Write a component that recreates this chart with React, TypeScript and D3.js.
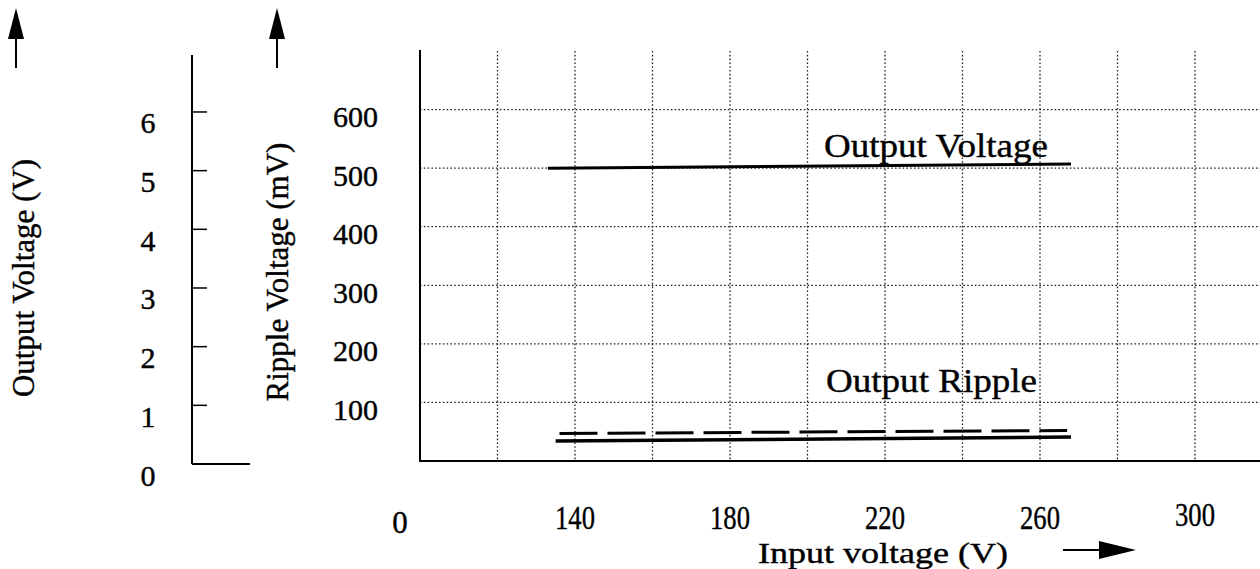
import React from "react";
import * as d3 from "d3";

// Input voltage (V) values carrying a labelled tick and a vertical grid line
const inputTickLabels = [140, 180, 220, 260, 300];
const inputGridLines = [120, 140, 160, 180, 200, 220, 240, 260, 280, 300];
// Ripple voltage axis (mV)
const rippleTicks = [100, 200, 300, 400, 500, 600];
// Output voltage axis (V)
const voltTicks = [0, 1, 2, 3, 4, 5, 6];

// Measured curves: input voltage (V) vs output voltage (V)
const outputVoltage = [
  { vin: 133, v: 5.0 },
  { vin: 268, v: 5.07 },
];
// Output ripple traces (mV)
const rippleUpper = [
  { vin: 136, mv: 47 },
  { vin: 267, mv: 52 },
];
const rippleLower = [
  { vin: 135, mv: 34 },
  { vin: 268, mv: 41 },
];

const W = 1260;
const H = 569;
const SERIF = "'Liberation Serif', 'Times New Roman', serif";
// slightly heavier glyphs, like a printed data sheet
const ink = { fill: "#000", stroke: "#000", strokeWidth: 0.4 };

export default function App() {
  const x = d3.scaleLinear().domain([100, 320]).range([420, 1272.5]);
  const yR = d3.scaleLinear().domain([0, 700]).range([461, 51]);
  const yV = d3.scaleLinear().domain([0, 7]).range([464, 53.3]);

  const vLine = d3
    .line<{ vin: number; v: number }>()
    .x((d) => x(d.vin))
    .y((d) => yR(d.v * 100));
  const rLine = d3
    .line<{ vin: number; mv: number }>()
    .x((d) => x(d.vin))
    .y((d) => yR(d.mv));

  const left = x(100);
  const bottom = yR(0);
  const top = yR(700);
  const vAxisX = 192;

  return (
    <svg
      width={W}
      height={H}
      viewBox={`0 0 ${W} ${H}`}
      style={{ position: "fixed", left: 0, top: 0, background: "#fff" }}
    >
      <rect x={0} y={0} width={W} height={H} fill="#fff" />

      {/* vertical up-arrows above both y-axis titles */}
      {[16, 277].map((ax) => (
        <g key={ax}>
          <line x1={ax} x2={ax} y1={36} y2={68} stroke="#000" strokeWidth={2} />
          <path d={`M${ax},8 L${ax - 8},39 L${ax + 8},39 Z`} fill="#000" />
        </g>
      ))}

      {/* y-axis titles */}
      <text
        transform={`translate(34,${(152 + 404) / 2}) rotate(-90)`}
        textAnchor="middle"
        fontFamily={SERIF}
        fontSize={31}
        {...ink}
      >
        Output Voltage (V)
      </text>
      <text
        transform={`translate(288,${(140 + 404) / 2}) rotate(-90)`}
        textAnchor="middle"
        fontFamily={SERIF}
        fontSize={31}
        {...ink}
      >
        Ripple Voltage (mV)
      </text>

      {/* output voltage axis */}
      <line x1={vAxisX} x2={vAxisX} y1={55} y2={yV(0)} stroke="#000" strokeWidth={2} />
      <line x1={vAxisX} x2={250} y1={yV(0)} y2={yV(0)} stroke="#000" strokeWidth={2} />
      {voltTicks
        .filter((t) => t > 0)
        .map((t) => (
          <line
            key={t}
            x1={vAxisX}
            x2={vAxisX + 15}
            y1={yV(t)}
            y2={yV(t)}
            stroke="#000"
            strokeWidth={1.5}
          />
        ))}
      {voltTicks.map((t) => (
        <text
          key={t}
          x={148}
          y={yV(t) + 11}
          dy="0.35em"
          textAnchor="middle"
          fontFamily={SERIF}
          fontSize={30}
          {...ink}
        >
          {t}
        </text>
      ))}

      {/* ripple axis labels */}
      {rippleTicks.map((t) => (
        <text
          key={t}
          x={378}
          y={yR(t) + 7}
          dy="0.35em"
          textAnchor="end"
          fontFamily={SERIF}
          fontSize={30}
          {...ink}
        >
          {t}
        </text>
      ))}

      {/* dotted grid */}
      {inputGridLines.map((v) => (
        <line
          key={v}
          x1={x(v)}
          x2={x(v)}
          y1={top}
          y2={bottom}
          stroke="#222"
          strokeWidth={1.3}
          strokeDasharray="1.6 2.2"
        />
      ))}
      {rippleTicks.map((t) => (
        <line
          key={t}
          x1={left}
          x2={W}
          y1={yR(t)}
          y2={yR(t)}
          stroke="#222"
          strokeWidth={1.3}
          strokeDasharray="1.6 2.2"
        />
      ))}

      {/* plot frame */}
      <line x1={left} x2={left} y1={top - 1} y2={bottom + 1} stroke="#000" strokeWidth={2} />
      <line x1={left - 1} x2={W} y1={bottom} y2={bottom} stroke="#000" strokeWidth={2} />

      {/* curves */}
      <path d={vLine(outputVoltage) ?? ""} fill="none" stroke="#000" strokeWidth={3} />
      <path
        d={rLine(rippleUpper) ?? ""}
        fill="none"
        stroke="#000"
        strokeWidth={3}
        strokeDasharray="38 10"
      />
      <path d={rLine(rippleLower) ?? ""} fill="none" stroke="#000" strokeWidth={3.5} />

      {/* curve annotations */}
      <text
        x={824}
        y={157}
        textLength={224}
        lengthAdjust="spacingAndGlyphs"
        fontFamily={SERIF}
        fontSize={34}
        {...ink}
      >
        Output Voltage
      </text>
      <text
        x={826}
        y={392}
        textLength={211}
        lengthAdjust="spacingAndGlyphs"
        fontFamily={SERIF}
        fontSize={34}
        {...ink}
      >
        Output Ripple
      </text>

      {/* input voltage axis labels */}
      <text
        x={x(100) - 20}
        y={533}
        textAnchor="middle"
        fontFamily={SERIF}
        fontSize={31}
        {...ink}
      >
        0
      </text>
      {inputTickLabels.map((v) => (
        <text
          key={v}
          x={x(v)}
          y={v === 300 ? 526 : 529}
          textAnchor="middle"
          textLength={40}
          lengthAdjust="spacingAndGlyphs"
          fontFamily={SERIF}
          fontSize={34}
          {...ink}
        >
          {v}
        </text>
      ))}
      <text
        x={758}
        y={563}
        textLength={250}
        lengthAdjust="spacingAndGlyphs"
        fontFamily={SERIF}
        fontSize={30}
        {...ink}
      >
        Input  voltage (V)
      </text>
      <line x1={1063} x2={1102} y1={550} y2={550} stroke="#000" strokeWidth={2} />
      <path d="M1136,550 L1099,541 L1099,559 Z" fill="#000" />
    </svg>
  );
}
